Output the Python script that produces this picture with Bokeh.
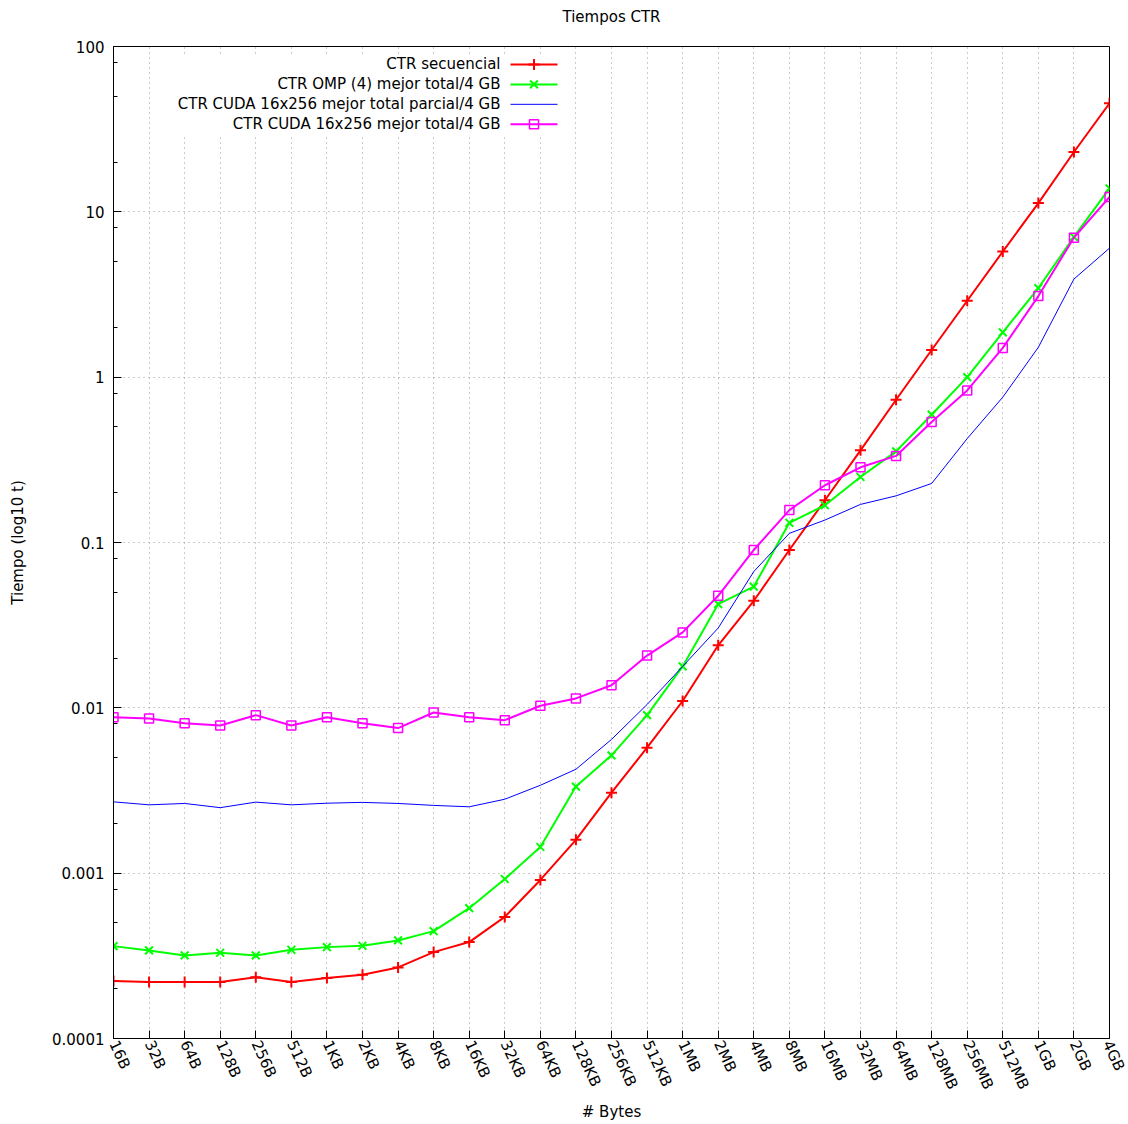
from bokeh.plotting import figure
from bokeh.models import Range1d, FixedTicker, CustomJSTickFormatter, Label, BoxAnnotation, Title
from bokeh.embed import file_html
from bokeh.resources import INLINE

# ---------------- data ----------------
sizes = ["16B", "32B", "64B", "128B", "256B", "512B", "1KB", "2KB", "4KB", "8KB",
         "16KB", "32KB", "64KB", "128KB", "256KB", "512KB", "1MB", "2MB", "4MB",
         "8MB", "16MB", "32MB", "64MB", "128MB", "256MB", "512MB", "1GB", "2GB", "4GB"]

t_seq = [0.000223, 0.00022, 0.00022, 0.00022, 0.000235, 0.00022, 0.000232, 0.000243,
         0.000269, 0.000333, 0.000383, 0.000544, 0.00091, 0.00159, 0.00307, 0.00574,
         0.0110, 0.0239, 0.0444, 0.0901, 0.180, 0.361, 0.730, 1.46, 2.90, 5.75,
         11.3, 23.0, 45.3]

t_omp = [0.000362, 0.000341, 0.000318, 0.00033, 0.000318, 0.000344, 0.000357, 0.000364,
         0.000392, 0.000446, 0.000614, 0.000922, 0.00144, 0.00334, 0.00516, 0.00903,
         0.0178, 0.0424, 0.0541, 0.1316, 0.168, 0.249, 0.356, 0.593, 1.0, 1.867,
         3.457, 7.05, 13.86]

t_cuda_parcial = [0.0027, 0.00259, 0.00264, 0.00249, 0.00269, 0.00259, 0.00265, 0.00268,
                  0.00264, 0.00257, 0.00252, 0.0028, 0.0034, 0.00425, 0.00644, 0.01047,
                  0.0178, 0.0304, 0.0667, 0.1136, 0.1367, 0.170, 0.1915, 0.2275, 0.425,
                  0.757, 1.516, 3.92, 6.03]

t_cuda_total = [0.00878, 0.00863, 0.00808, 0.00782, 0.00903, 0.00782, 0.00878, 0.00808,
                0.00754, 0.00937, 0.00878, 0.00842, 0.0103, 0.0114, 0.0137, 0.0207,
                0.0286, 0.0476, 0.0901, 0.157, 0.222, 0.285, 0.334, 0.535, 0.831,
                1.503, 3.094, 6.98, 12.29]

series_names = ["CTR secuencial",
                "CTR OMP (4) mejor total/4 GB",
                "CTR CUDA 16x256 mejor total parcial/4 GB",
                "CTR CUDA 16x256 mejor total/4 GB"]

y_major = [1e-4, 1e-3, 1e-2, 1e-1, 1, 10, 100]
y_minor = [m * 10.0 ** e for e in range(-4, 2) for m in (2, 5, 8)]

x = list(range(len(sizes)))

FONT = "DejaVu Sans"
FS = "15px"

W, H = 1128, 1124
FRAME_L, FRAME_R, FRAME_T, FRAME_B = 113.0, 1109.0, 45.0, 1040.0

p = figure(width=W, height=H, y_axis_type="log",
           x_range=Range1d(0, len(sizes) - 1), y_range=Range1d(1e-4, 100),
           output_backend="svg", toolbar_location=None,
           min_border_left=int(FRAME_L), min_border_right=int(W - FRAME_R),
           min_border_top=int(FRAME_T), min_border_bottom=int(H - FRAME_B))

# spacer between frame and title, then the title itself (stacked upwards)
p.add_layout(Title(text=" ", text_font_size="12px", standoff=0), "above")
p.add_layout(Title(text="Tiempos CTR", align="center", text_font=FONT,
                   text_font_size=FS, text_font_style="normal",
                   text_color="black"), "above")

p.outline_line_color = "black"
p.outline_line_width = 1
p.background_fill_color = "white"
p.border_fill_color = "white"

# x axis
p.xaxis.ticker = FixedTicker(ticks=x)
p.xaxis.major_label_overrides = {i: s for i, s in enumerate(sizes)}
p.xaxis.major_label_orientation = -1.134
p.xaxis.axis_label = "# Bytes"
p.xaxis.axis_label_standoff = 4

# y axis
p.yaxis.ticker = FixedTicker(ticks=y_major, minor_ticks=y_minor)
p.yaxis.formatter = CustomJSTickFormatter(code="""
    if (tick >= 1) { return tick.toFixed(0); }
    return String(parseFloat(tick.toPrecision(1)));
""")
p.yaxis.axis_label = "Tiempo (log10 t)"
p.yaxis.axis_label_standoff = 22

for ax in (p.xaxis, p.yaxis):
    ax.axis_line_color = "black"
    ax.major_tick_line_color = "black"
    ax.minor_tick_line_color = "black"
    ax.major_tick_in = 8
    ax.major_tick_out = 0
    ax.minor_tick_in = 4
    ax.minor_tick_out = 0
    ax.major_label_text_font = FONT
    ax.major_label_text_font_size = FS
    ax.major_label_text_color = "black"
    ax.axis_label_text_font = FONT
    ax.axis_label_text_font_size = FS
    ax.axis_label_text_font_style = "normal"
    ax.axis_label_text_color = "black"
p.xaxis.minor_tick_line_color = None
p.xaxis.major_label_standoff = 3
p.yaxis.major_label_standoff = 9

for g in (p.xgrid, p.ygrid):
    g.grid_line_color = "#999999"
    g.grid_line_dash = "1 4"
    g.grid_line_width = 1

RED, GREEN, BLUE, MAGENTA = "#ff0000", "#00ff00", "#0000ff", "#ff00ff"

# ---------------- legend helpers (gnuplot style) -----
def xd(px):
    return (px - FRAME_L) / (FRAME_R - FRAME_L) * (len(sizes) - 1)
def yd(py):
    return 10 ** (2 - 6 * (py - FRAME_T) / (FRAME_B - FRAME_T))

# white legend background hides the grid (drawn right after the grid)
p.add_layout(BoxAnnotation(left=xd(160), right=xd(566), top=yd(53), bottom=yd(133),
                           fill_color="white", fill_alpha=1.0, line_color=None,
                           level="underlay"))

# series
p.line(x, t_seq, line_color=RED, line_width=2)
p.scatter(x, t_seq, marker="cross", size=11, line_color=RED, line_width=2)

p.line(x, t_omp, line_color=GREEN, line_width=2)
p.scatter(x, t_omp, marker="x", size=11, line_color=GREEN, line_width=2)

p.line(x, t_cuda_parcial, line_color=BLUE, line_width=1)

p.line(x, t_cuda_total, line_color=MAGENTA, line_width=2)
p.scatter(x, t_cuda_total, marker="square", size=9, line_color=MAGENTA,
          fill_color=None, line_width=1.5)

row_y = [63, 83, 103, 123]
styles = [(RED, 2, "cross"), (GREEN, 2, "x"), (BLUE, 1, None), (MAGENTA, 2, "square")]
for name, ry, (col, lw, mk) in zip(series_names, row_y, styles):
    p.add_layout(Label(x=xd(500), y=yd(ry), text=name, text_align="right",
                       text_baseline="middle", text_font=FONT, text_font_size=FS,
                       text_color="black"))
    p.line([xd(510), xd(557)], [yd(ry), yd(ry)], line_color=col, line_width=lw)
    if mk == "square":
        p.scatter([xd(533.5)], [yd(ry)], marker=mk, size=9, line_color=col,
                  fill_color=None, line_width=1.5)
    elif mk is not None:
        p.scatter([xd(533.5)], [yd(ry)], marker=mk, size=11, line_color=col,
                  line_width=2)

open("out.html", "w").write(file_html(p, INLINE))
